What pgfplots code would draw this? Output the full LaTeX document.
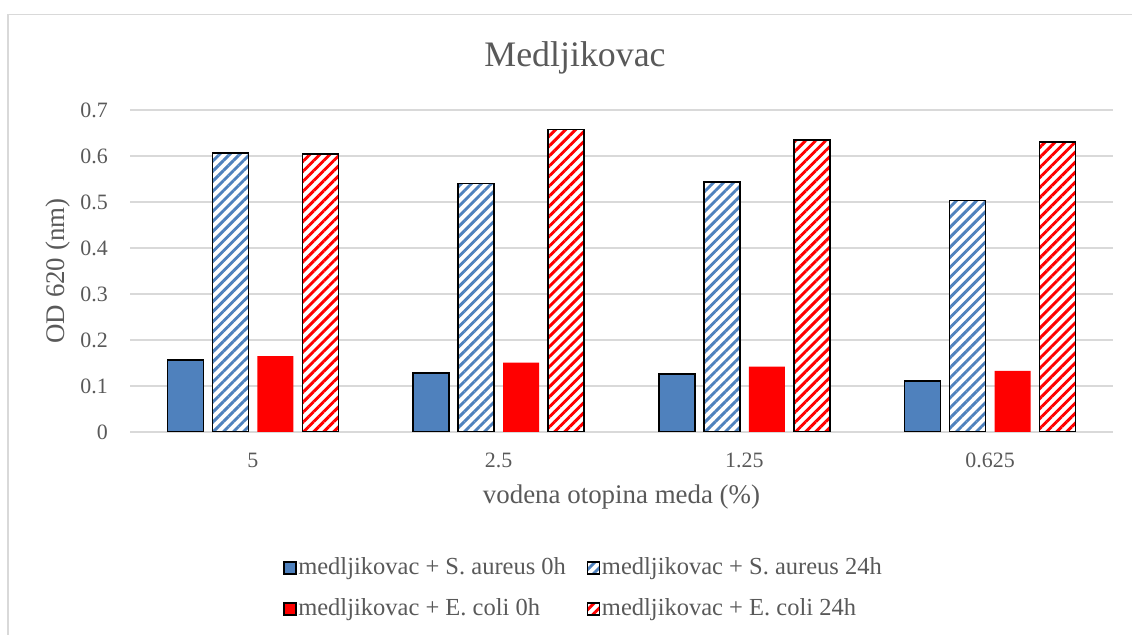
\documentclass[border=0pt]{standalone}
\usepackage{pgfplots}
\pgfplotsset{compat=1.18}
\usepackage{pgfplotstable}
\usetikzlibrary{patterns.meta}
\usepackage{fontspec}
\setmainfont{Liberation Serif}
\definecolor{sblue}{HTML}{4F81BD}
\definecolor{sred}{HTML}{FF0000}
\definecolor{tgray}{HTML}{595959}
\definecolor{ggray}{HTML}{D9D9D9}

\pgfplotstableread{
x sa0 sa24 ec0 ec24
0 0.156 0.607 0.165 0.605
1 0.128 0.540 0.151 0.658
2 0.126 0.544 0.142 0.635
3 0.111 0.503 0.133 0.631
}\datatable

\begin{document}
\begin{tikzpicture}
\path[use as bounding box] (0,0) rectangle (1132bp,635bp);
\draw[ggray, line width=1.5bp] (8bp,0bp) -- (8bp,620.5bp) -- (1132bp,620.5bp);
\begin{axis}[
  at={(130bp,203bp)}, anchor=south west,
  scale only axis, width=983bp, height=322bp,
  xmin=-0.5, xmax=3.5, ymin=0, ymax=0.7,
  xtick={0,1,2,3}, xticklabels={5,2.5,1.25,0.625},
  ytick={0,0.1,0.2,0.3,0.4,0.5,0.6,0.7},
  yticklabel style={/pgf/number format/fixed,/pgf/number format/precision=1,/pgf/number format/assume math mode=true, anchor=east, inner sep=0pt, xshift=-22bp},
  xticklabel style={anchor=north, inner sep=0pt, yshift=-21bp},
  tick label style={font=\fontsize{22}{26}\selectfont, text=tgray},
  major tick length=0pt,
  tick style={draw=none},
  axis line style={draw=none},
  ymajorgrids, grid style={ggray, line width=1.5bp},
  title={Medljikovac},
  title style={at={(axis description cs:0.4527,1.115)}, anchor=base, font=\fontsize{36}{40}\selectfont, text=tgray},
  xlabel={vodena otopina meda (\%)},
  xlabel style={at={(axis description cs:0.5,-0.2019)}, anchor=center, font=\fontsize{27}{30}\selectfont, text=tgray},
  ylabel={OD 620 (nm)},
  ylabel style={at={(axis description cs:-0.0732,0.5)}, anchor=center, rotate=0, font=\fontsize{27}{30}\selectfont, text=tgray},
  ybar, bar width=36bp,
  legend columns=2,
  legend style={at={(0.1557,-0.388)}, anchor=north west, draw=none, fill=none, inner sep=0pt,
    font=\fontsize{24.6}{28}\selectfont, text=tgray,
    nodes={inner sep=0pt, text height=17bp, text depth=5bp},
    cells={anchor=west},
    row sep=19bp,
    /tikz/every even column/.append style={column sep=21bp},
    /tikz/every odd column/.append style={column sep=1.5bp}},
  legend image code/.code={\draw[#1, line width=1.5bp] (0bp,-6bp) rectangle (12bp,6bp);},
]
\addplot[fill=sblue, draw=black, line width=1.6bp, bar shift=-67.5bp] table[x=x,y=sa0]{\datatable};
\addplot[fill=white, postaction={pattern={Lines[angle=45,distance=7.1bp,line width=2.9bp]}, pattern color=sblue}, draw=black, line width=1.6bp, bar shift=-22.5bp] table[x=x,y=sa24]{\datatable};
\addplot[fill=sred, draw=none, bar shift=22.5bp] table[x=x,y=ec0]{\datatable};
\addplot[fill=white, postaction={pattern={Lines[angle=45,distance=7.1bp,line width=2.9bp]}, pattern color=sred}, draw=black, line width=1.6bp, bar shift=67.5bp] table[x=x,y=ec24]{\datatable};
\legend{medljikovac + S. aureus 0h, medljikovac + S. aureus 24h, medljikovac + E. coli 0h, medljikovac + E. coli 24h}
\end{axis}
\end{tikzpicture}
\end{document}
